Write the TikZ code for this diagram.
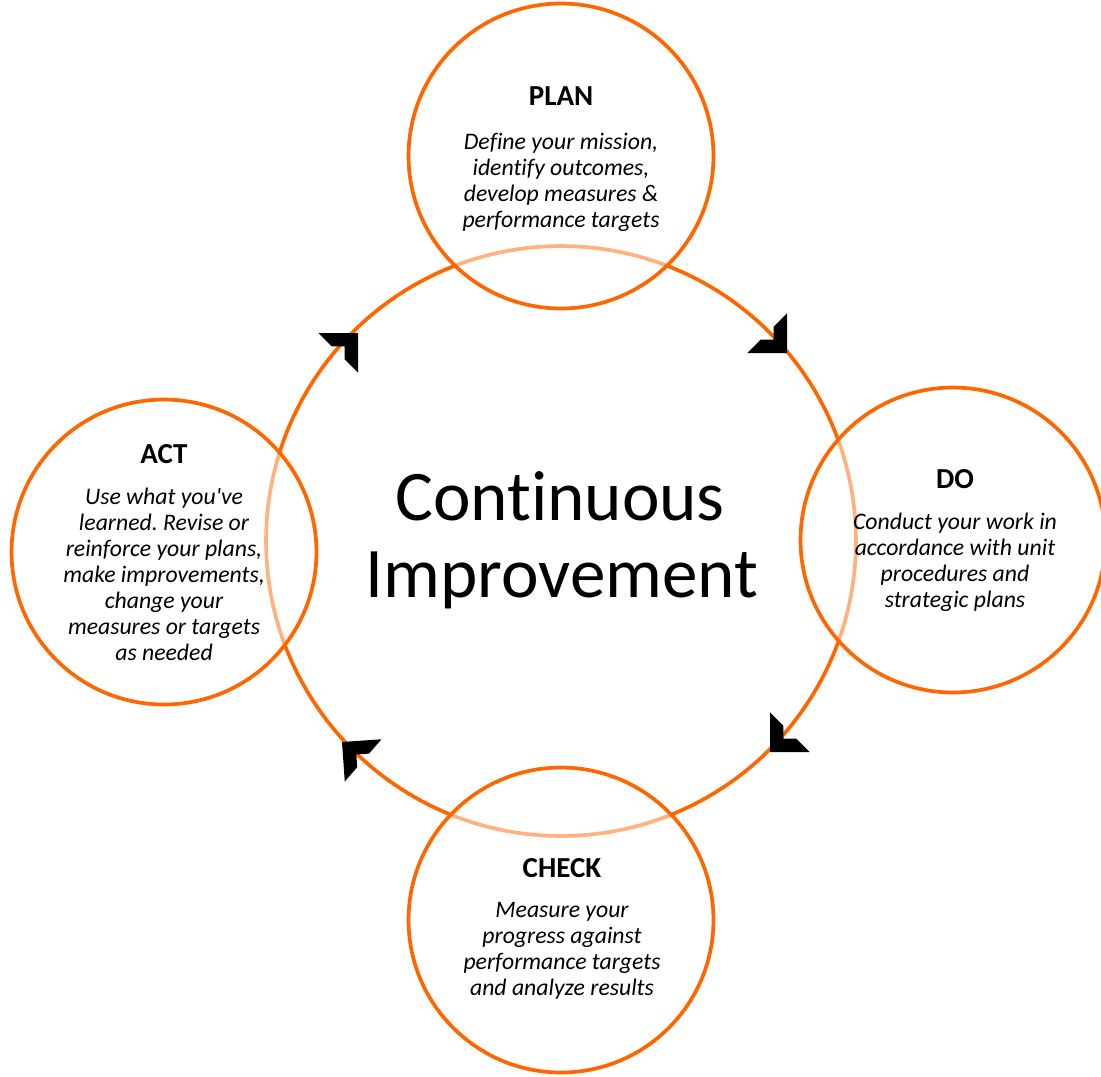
\documentclass[tikz,border=0pt]{standalone}
\usepackage{fontspec}
\setmainfont{Carlito}[Ligatures={TeXOff,NoCommon}]
\definecolor{ringc}{RGB}{255,102,0}
\frenchspacing
\tikzset{
  chevron/.pic={
    \fill[black] (0,0) -- (-28,28) -- (-28,9) -- (-19,0) -- (-28,-9) -- (-28,-28) -- cycle;
  }
}
\begin{document}
\begin{tikzpicture}[x=0.02cm,y=-0.02cm,
  hub/.style={circle, draw=ringc, line width=2.1pt, minimum size=11.8cm, inner sep=0pt},
  petal/.style={circle, draw=ringc, line width=2.1pt, fill=white, fill opacity=0.5,
                draw opacity=1, minimum size=6.1cm, inner sep=0pt},
  heading/.style={font=\fontsize{16.5}{19}\selectfont\bfseries, anchor=base, inner sep=0pt},
  body/.style={font=\fontsize{13.5}{14.8}\selectfont\itshape, align=center, anchor=north, inner sep=0pt},
  title/.style={font=\fontsize{40.5}{44}\selectfont, anchor=base, inner sep=0pt}]
  \useasboundingbox (0,0) rectangle (1101,1076);

  % central cycle
  \node[hub] (cycle) at (561,541) {};

  % the four stages
  \node[petal] (plan)  at (561,156) {};
  \node[petal] (do)    at (953,540) {};
  \node[petal] (check) at (561,920) {};
  \node[petal] (act)   at (164,552) {};

  % direction of travel around the cycle
  \pic[rotate=-45]  at (787,353) {chevron};
  \pic[rotate=-135] at (770,752) {chevron};
  \pic[rotate=139]  at (342,742) {chevron};
  \pic[rotate=45]   at (358,333) {chevron};

  % titles
  \node[title] (title1) at (560,520) {Continuous};
  \node[title] (title2) at (562,597) {Improvement};

  % stage texts
  \node[heading] (planh) at (561,105) {PLAN};
  \node[body] (plant) at (561,133) {Define your mission,\\identify outcomes,\\develop measures \&\\performance targets};

  \node[heading] (doh) at (955,488) {DO};
  \node[body] (dot) at (955,513) {Conduct your work in\\accordance with unit\\procedures and\\strategic plans};

  \node[heading] (checkh) at (562,877) {CHECK};
  \node[body] (checkt) at (562,902) {Measure your\\progress against\\performance targets\\and analyze results};

  \node[heading] (acth) at (164,463) {ACT};
  \node[body] (actt) at (164,488) {Use what you've\\learned. Revise or\\reinforce your plans,\\make improvements,\\change your\\measures or targets\\as needed};
\end{tikzpicture}
\end{document}
